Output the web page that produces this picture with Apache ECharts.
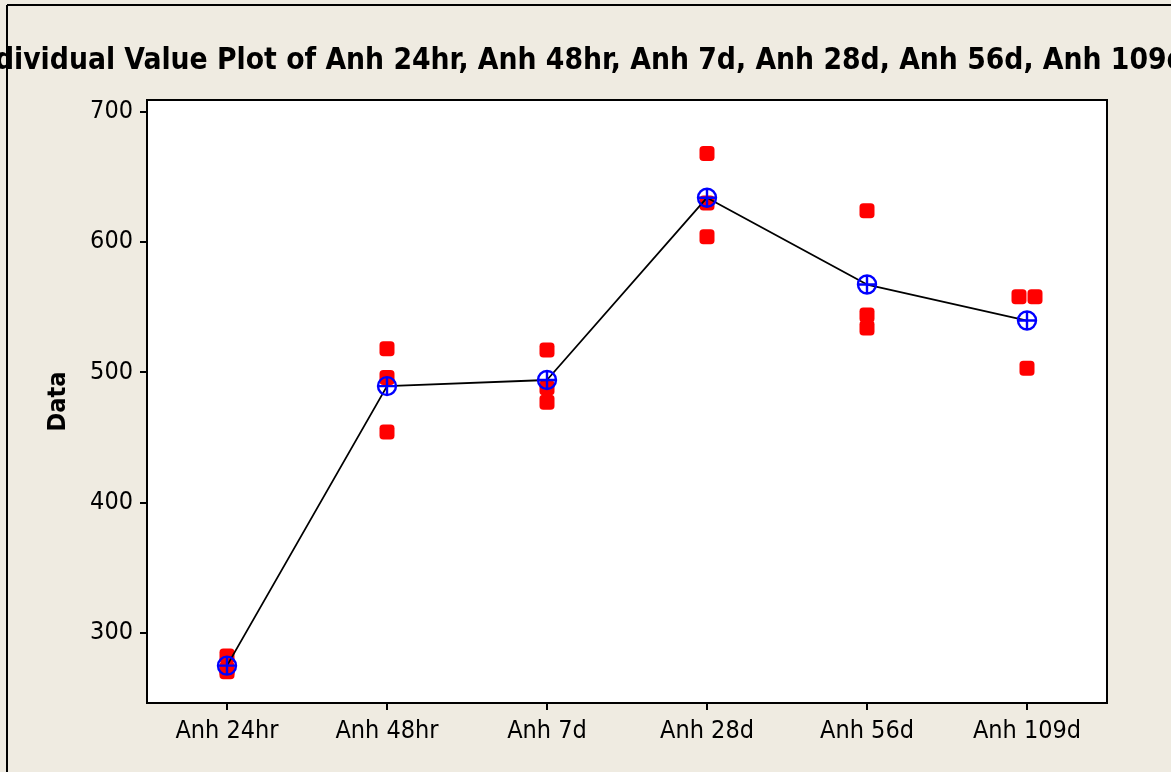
<!DOCTYPE html>
<html>
<head>
<meta charset="utf-8">
<script src="https://cdn.jsdelivr.net/npm/echarts@6/dist/echarts.min.js"></script>
<style>
html,body{margin:0;padding:0;background:#EFEBE1;}
#c{width:1171px;height:772px;}
</style>
</head>
<body>
<div id="c"></div>
<script>
const categories = ['Anh 24hr', 'Anh 48hr', 'Anh 7d', 'Anh 28d', 'Anh 56d', 'Anh 109d'];
const anh24hr = [282, 272, 270];
const anh48hr = [518, 496, 454];
const anh7d = [517, 488, 477];
const anh28d = [668, 630, 604];
const anh56d = [624, 544, 534];
const anh109d = [558, 558, 503];
const yTicks = [300, 400, 500, 600, 700];
const titleText = 'Individual Value Plot of Anh 24hr, Anh 48hr, Anh 7d, Anh 28d, Anh 56d, Anh 109d';

const groups = [anh24hr, anh48hr, anh7d, anh28d, anh56d, anh109d];
const FONT = "'DejaVu Sans Condensed', 'Liberation Sans', sans-serif";

// individual points (duplicates are spread side by side, like Minitab)
const pts = [];
groups.forEach((g, i) => {
  const seen = {};
  g.forEach(v => { seen[v] = (seen[v] || 0) + 1; });
  const used = {};
  g.forEach(v => {
    const n = seen[v];
    const k = used[v] = (used[v] || 0) + 1;
    const off = n > 1 ? (k - (n + 1) / 2) * 16 : 0;
    pts.push({ value: [i, v], symbolOffset: [off, 0] });
  });
});
const means = groups.map(g => g.reduce((a, b) => a + b, 0) / g.length);

const meanSymbol = 'path://M0,-10 A10,10 0 1,1 0,10 A10,10 0 1,1 0,-10 Z M-10,0 L10,0 M0,-10 L0,10';

const chart = echarts.init(document.getElementById('c'), null, { renderer: 'canvas' });
chart.setOption({
  backgroundColor: '#EFEBE1',
  animation: false,
  title: {
    text: titleText,
    left: -34,
    top: 46,
    padding: 0,
    textStyle: { fontFamily: FONT, fontWeight: 'bold', fontSize: 29.7, color: '#000' }
  },
  graphic: [
    { type: 'line', shape: { x1: 7, y1: 5, x2: 1171, y2: 5 }, style: { stroke: '#000', lineWidth: 2 } },
    { type: 'line', shape: { x1: 7, y1: 5, x2: 7, y2: 772 }, style: { stroke: '#000', lineWidth: 2 } }
  ],
  grid: {
    left: 147, right: 64, top: 100, bottom: 69,
    show: true, backgroundColor: '#fff', borderColor: '#000', borderWidth: 2
  },
  xAxis: {
    type: 'category',
    data: categories,
    boundaryGap: true,
    axisLine: { show: true, lineStyle: { color: '#000', width: 2 } },
    axisTick: { show: true, alignWithLabel: true, length: 7, lineStyle: { color: '#000', width: 2 } },
    axisLabel: { color: '#000', fontFamily: FONT, fontSize: 25, margin: 16 },
    splitLine: { show: false }
  },
  yAxis: {
    type: 'value',
    min: 246,
    max: 709,
    name: 'Data',
    nameLocation: 'middle',
    nameGap: 76,
    nameRotate: 90,
    nameTextStyle: { fontFamily: FONT, fontWeight: 'bold', fontSize: 25, color: '#000' },
    axisLine: { show: true, lineStyle: { color: '#000', width: 2 } },
    axisTick: { show: true, length: 7, customValues: yTicks, lineStyle: { color: '#000', width: 2 } },
    axisLabel: { color: '#000', fontFamily: FONT, fontSize: 25, margin: 14, customValues: yTicks },
    splitLine: { show: false }
  },
  series: [
    {
      type: 'scatter',
      data: pts,
      symbol: 'roundRect',
      symbolSize: 15,
      itemStyle: { color: '#FF0000', opacity: 1 },
      z: 2
    },
    {
      type: 'line',
      data: means,
      symbol: meanSymbol,
      symbolSize: 18,
      showAllSymbol: true,
      lineStyle: { color: '#000', width: 1.8 },
      itemStyle: { color: 'rgba(0,0,0,0)', borderColor: '#0000FF', borderWidth: 2.4, opacity: 1 },
      z: 3
    }
  ]
});
</script>
</body>
</html>
